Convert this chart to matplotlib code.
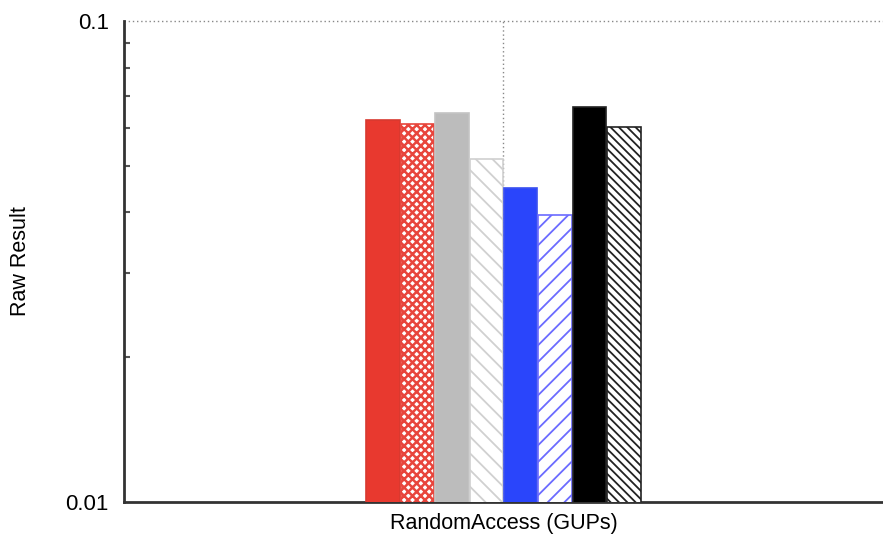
import matplotlib
matplotlib.use("Agg")
import matplotlib.pyplot as plt
from matplotlib.ticker import FixedLocator, LogLocator, NullFormatter
import numpy as np

plt.rcParams['font.family'] = ['Liberation Sans', 'DejaVu Sans']
plt.rcParams['hatch.linewidth'] = 1.3

category = "RandomAccess (GUPs)"
values = [0.0614, 0.0602, 0.0635, 0.0507, 0.0439, 0.0386, 0.0653, 0.0591]
faces = ['#e8392f', 'white', '#bcbcbc', 'white', '#2a45fb', 'white', '#000000', 'white']
edges = ['#d83a30', '#e8453c', '#c4c4c4', '#d0d0d0', '#3a50f0', '#6b6bff', '#222222', '#222222']
hatches = [None, 'xxxx', None, '\\\\', None, '//', None, '\\\\\\\\']
y_ticks = [0.01, 0.1]
y_tick_labels = ['0.01', '0.1']

fig = plt.figure(figsize=(8.83, 5.40), dpi=100)
ax = fig.add_axes([0.1404, 0.0704, 0.8596, 0.8906])

n = len(values)
width = 0.0453
offsets = (np.arange(n) - (n - 1) / 2) * width
for off, v, fc, ec, h in zip(offsets, values, faces, edges, hatches):
    bars = ax.bar(off, v, width=width * 0.97, bottom=0.001, color=fc, edgecolor=ec,
                  hatch=h, linewidth=1.2, zorder=3)
    if h == 'xxxx':
        for b in bars:
            try:
                b.set_hatch_linewidth(1.8)
            except AttributeError:
                pass

ax.set_yscale('log')
ax.set_ylim(0.01, 0.1)
ax.set_xlim(-0.5, 0.5)

ax.yaxis.set_major_locator(FixedLocator(y_ticks))
ax.set_yticklabels(y_tick_labels, fontsize=16)
ax.yaxis.set_minor_locator(LogLocator(base=10, subs=np.arange(2, 10)))
ax.yaxis.set_minor_formatter(NullFormatter())
ax.tick_params(axis='y', which='major', length=0, pad=11)
ax.tick_params(axis='y', which='minor', direction='in', length=4, width=1.5, color='#555555')

ax.set_xticks([0])
ax.set_xticklabels([category], fontsize=15.5)
ax.tick_params(axis='x', length=0, pad=8)

ax.set_ylabel('Raw Result', fontsize=15.5, labelpad=25)

for side in ['top', 'right']:
    ax.spines[side].set_visible(False)
for side in ['left', 'bottom']:
    ax.spines[side].set_linewidth(2)
    ax.spines[side].set_color('#333333')

ax.axhline(0.1, color='#888888', linestyle=(0, (1, 2)), linewidth=1, zorder=1, clip_on=False)
ax.axvline(0, color='#888888', linestyle=(0, (1, 2)), linewidth=1, zorder=1)

fig.savefig('out.png', dpi=100)
